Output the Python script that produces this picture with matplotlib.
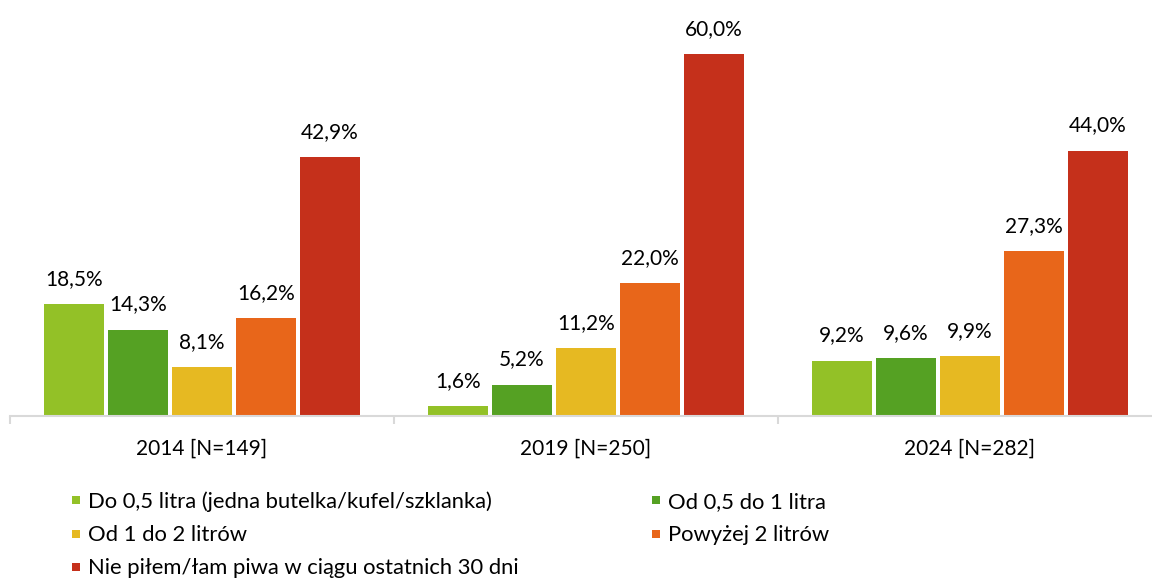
import matplotlib
matplotlib.use("Agg")
import matplotlib.pyplot as plt
from matplotlib.lines import Line2D
import numpy as np

plt.rcParams['font.family'] = ['Lato', 'DejaVu Sans']

categories = ["2014 [N=149]", "2019 [N=250]", "2024 [N=282]"]
series_names = [
    "Do 0,5 litra (jedna butelka/kufel/szklanka)",
    "Od 0,5 do 1 litra",
    "Od 1 do 2 litrów",
    "Powyżej 2 litrów",
    "Nie piłem/łam piwa w ciągu ostatnich 30 dni",
]
values = [
    [18.5, 1.6, 9.2],
    [14.3, 5.2, 9.6],
    [8.1, 11.2, 9.9],
    [16.2, 22.0, 27.3],
    [42.9, 60.0, 44.0],
]
colors = ["#93C127", "#55A123", "#E6B922", "#E8661A", "#C5301B"]

W, H = 1152, 578
fig = plt.figure(figsize=(W / 100, H / 100), dpi=100)
ax = fig.add_axes([10 / W, (H - 416) / H, 1152 / W, 416 / H])

x = np.arange(len(categories))
stride = 64 / 384
bw = 60 / 384
fs = 15
for i, (name, vals, c) in enumerate(zip(series_names, values, colors)):
    off = (i - 2) * stride
    bars = ax.bar(x + off, vals, bw, color=c, label=name, zorder=2)
    ax.bar_label(bars, labels=[f"{v:.1f}%".replace('.', ',') for v in vals],
                 padding=11, fontsize=fs, color="#000000")

ax.set_xlim(-0.5, 2.5)
ax.set_ylim(0, 69.0)
for s in ["top", "right", "left"]:
    ax.spines[s].set_visible(False)
ax.spines["bottom"].set_color("#D9D9D9")
ax.spines["bottom"].set_linewidth(1.5)
ax.set_yticks([])
ax.set_xticks([-0.5, 0.5, 1.5, 2.5])
ax.set_xticklabels([])
ax.tick_params(axis='x', which='major', length=6, width=1.5, color="#D9D9D9")
ax.set_xticks(x, minor=True)
ax.set_xticklabels(categories, minor=True, fontsize=15)
ax.tick_params(axis='x', which='minor', length=0, pad=16.5)

lfs = 15.8
handles = [Line2D([], [], marker='s', linestyle='none', markersize=5.8,
                  color=c, markeredgewidth=0) for c in colors]
order = [0, 2, 4, 1, 3]
leg = fig.legend([handles[i] for i in order], [series_names[i] for i in order],
                 ncol=2, loc="upper left", bbox_to_anchor=(70 / W, 1 - 491.5 / H),
                 frameon=False, fontsize=lfs, handlelength=0.55, handletextpad=0.27,
                 labelspacing=0.60, columnspacing=5.99, borderaxespad=0, borderpad=0)

fig.savefig("out.png", dpi=100)
